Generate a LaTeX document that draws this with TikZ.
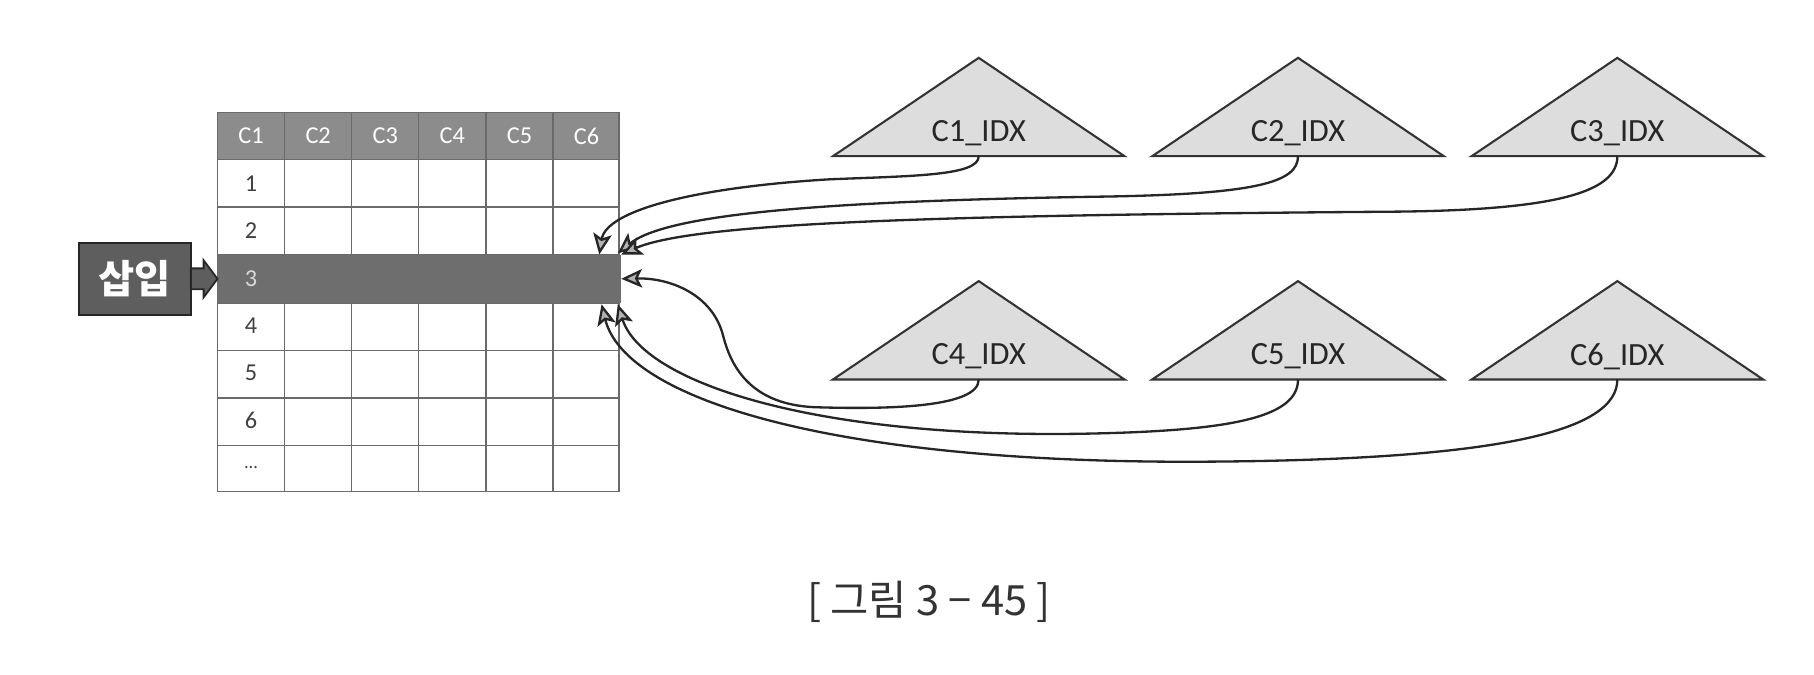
\documentclass[tikz,border=0pt]{standalone}
\usepackage{fontspec}
\setmainfont{Carlito}
\newfontfamily\krfont{Noto Sans CJK KR}
\usetikzlibrary{arrows.meta,calc,positioning}
\definecolor{headgray}{HTML}{8C8C8C}
\definecolor{rowgray}{HTML}{6E6E6E}
\definecolor{boxgray}{HTML}{5E5E5E}
\definecolor{trigray}{HTML}{DDDDDD}
\definecolor{linegray}{HTML}{6A6A6A}
\tikzset{
  headcell/.style={minimum width=29pt,minimum height=20.5pt,inner sep=0pt,text=white,font=\fontsize{10.5}{12}\selectfont},
  rowcell/.style={minimum width=29pt,minimum height=20.5pt,inner sep=0pt,text=black!75,font=\fontsize{10.5}{12}\selectfont},
  rowbar/.style={fill=rowgray,minimum width=174.5pt,minimum height=21pt,inner sep=0pt,outer sep=0pt},
  insertbox/.style={fill=boxgray,draw=black!85,line width=1pt,minimum width=48.5pt,minimum height=31pt,inner sep=0pt,outer sep=0pt,text=white,font=\krfont\bfseries\fontsize{17}{20}\selectfont},
  pusharrow/.style={fill=boxgray,draw=black!85,line width=0.8pt,line join=miter},
  idxtri/.style={fill=trigray,draw=black!80,line width=0.9pt,line join=miter},
  idxlabel/.style={text=black!85,font=\fontsize{14}{16}\selectfont},
  link/.style={draw=black!85,line width=1pt,-{Stealth[length=9pt,width=8pt,inset=2pt,fill=gray!60]}},
}
\begin{document}
\begin{tikzpicture}[x=0.5pt,y=-0.5pt]
  \useasboundingbox (0,0) rectangle (1568,583);
  % table
  \fill[headgray] (188,97) rectangle (535,138);
  \foreach \c in {1,...,6}
    \node[headcell] (h\c) at (159+58*\c,117.5) {C\c};
  \foreach \x in {188,246,304,362,420,478,535}
    \draw[linegray,line width=0.6pt] (\x,97) -- (\x,425);
  \foreach \y in {97,138,179,220,262,303,344,385,425}
    \draw[linegray,line width=0.6pt] (188,\y) -- (535,\y);
  \node[rowbar] (row3) at (362.5,241) {};
  \foreach \r in {1,2,4,5,6}
    \node[rowcell] (r\r) at (217,117.5+41*\r) {\r};
  \node[rowcell,text=black!15] (r3) at (217,240.5) {3};
  \node[rowcell,font=\fontsize{8}{10}\selectfont] (r7) at (217,404.5) {...};

  % insert
  \node[insertbox] (insert) at (116.5,241) {삽입};
  \draw[pusharrow] ([yshift=4.5pt]insert.east) -- ++(5.5pt,0) -- ++(0,3.5pt) -- (row3.west)
    -- ++(-6pt,-8pt) -- ++(0,3.5pt) -- ++(-5.5pt,0) -- cycle;

  % indexes
  \foreach \n/\x/\y in {1/846/50,2/1122/50,3/1398/50,4/846/243,5/1122/243,6/1398/243} {
    \draw[idxtri] (\x,\y) -- ++(126,85) -- ++(-252,0) -- cycle;
    \node[idxlabel] (idx\n) at (\x,\y+65) {C\n\_IDX};
    \coordinate (base\n) at (\x,\y+85);
  }

  \draw[link] (base1) .. controls (846,152) and (790,152) .. (717,155)
    .. controls (600,162) and (524,182) .. ($(row3.north east)+(-19,0)$);
  \draw[link] (base2) .. controls (1122,158) and (1085,168) .. (950,170)
    .. controls (700,174) and (575,186) .. ($(row3.north east)+(-3,-1)$);
  \draw[link] (base3) .. controls (1398,165) and (1350,182) .. (1200,183)
    .. controls (820,186) and (600,192) .. (row3.north east);
  \draw[link] (base4) .. controls (846,352) and (770,354) .. (705,352)
    .. controls (650,350) and (632,318) .. (625,290)
    .. controls (616,255) and (580,240) .. (row3.east);
  \draw[link] (base5) .. controls (1122,362) and (1060,373) .. (930,375)
    .. controls (700,378) and (555,330) .. ($(row3.south east)+(-3,1)$);
  \draw[link] (base6) .. controls (1398,372) and (1300,397) .. (1050,399)
    .. controls (720,402) and (540,345) .. ($(row3.south east)+(-17,1)$);

  \node[font=\krfont\fontsize{18}{20}\selectfont,text=black!80] (caption) at (803,520) {[ 그림 3 − 45 ]};
\end{tikzpicture}
\end{document}
